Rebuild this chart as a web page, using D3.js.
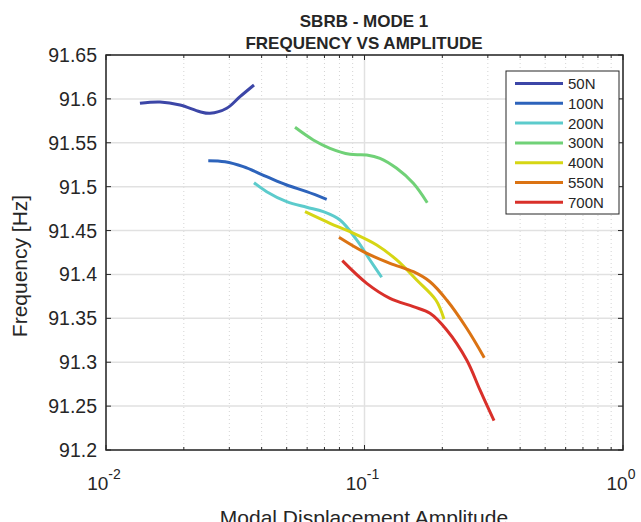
<!DOCTYPE html>
<html>
<head>
  <meta charset="utf-8">
  <title>SBRB - Mode 1</title>
  <script type="text/javascript" src="https://cdn.jsdelivr.net/npm/d3@7/dist/d3.min.js"></script>
  <style>
    body { margin: 0; background: #fff; }
    text { font-family: "Liberation Sans", Arial, sans-serif; fill: #262626; }
  </style>
</head>
<body>
<div id="chart"></div>
<script type="text/javascript">
  // values
  var seriesNames = ["50N", "100N", "200N", "300N", "400N", "550N", "700N"];
  var seriesColors = ["#3c46a7", "#2d63bb", "#5ccbcc", "#70d177", "#d6d614", "#db7313", "#d9302a"];

  var amp50 = [0.01353, 0.01618, 0.01934, 0.02309, 0.02525, 0.02931, 0.03299, 0.03737];
  var freq50 = [91.595, 91.5965, 91.593, 91.5854, 91.5836, 91.5893, 91.6025, 91.6158];
  var amp100 = [0.02487, 0.02886, 0.03397, 0.04183, 0.05, 0.05975, 0.07142];
  var freq100 = [91.5296, 91.5284, 91.5228, 91.5114, 91.5019, 91.4943, 91.4856];
  var amp200 = [0.03737, 0.04183, 0.05, 0.05975, 0.06928, 0.08039, 0.09328, 0.105, 0.1165];
  var freq200 = [91.5045, 91.4943, 91.4829, 91.4765, 91.4715, 91.462, 91.4393, 91.4165, 91.3968];
  var amp300 = [0.05385, 0.06337, 0.07354, 0.08789, 0.102, 0.1148, 0.1332, 0.1545, 0.1749];
  var freq300 = [91.5676, 91.5532, 91.5437, 91.5369, 91.5361, 91.5323, 91.5209, 91.5038, 91.4817];
  var amp400 = [0.05887, 0.07354, 0.08789, 0.1115, 0.1332, 0.1592, 0.1888, 0.203];
  var freq400 = [91.4715, 91.4583, 91.4487, 91.4336, 91.4165, 91.3937, 91.3709, 91.3493];
  var amp550 = [0.07966, 0.09895, 0.1255, 0.1545, 0.1792, 0.208, 0.2485, 0.2906];
  var freq550 = [91.4423, 91.4259, 91.4127, 91.4031, 91.3917, 91.3709, 91.3387, 91.3052];
  var amp700 = [0.08207, 0.102, 0.1255, 0.1545, 0.1792, 0.208, 0.2485, 0.2797, 0.317];
  var freq700 = [91.4157, 91.3899, 91.3728, 91.3633, 91.3557, 91.3367, 91.3025, 91.2684, 91.2334];

  var xTickExps = [-2, -1, 0];
  var yTicks = [91.2, 91.25, 91.3, 91.35, 91.4, 91.45, 91.5, 91.55, 91.6, 91.65];

  var ampSets = [amp50, amp100, amp200, amp300, amp400, amp550, amp700];
  var freqSets = [freq50, freq100, freq200, freq300, freq400, freq550, freq700];

  var w = 641, h = 522;
  var pL = 106, pR = 623, pT = 55, pB = 450;

  var svg = d3.select("#chart").append("svg")
              .attr("width", w)
              .attr("height", h);

  var x = d3.scaleLog().domain([0.01, 1]).range([pL, pR]);
  var y = d3.scaleLinear().domain([91.2, 91.65]).range([pB, pT]);

  // minor positions 2..9 in each decade
  var minor = [];
  [0.01, 0.1].forEach(function(d) {
    for (var k = 2; k <= 9; k++) minor.push(d * k);
  });

  // grid
  var grid = svg.append("g");
  grid.selectAll(".minor").data(minor).enter().append("line")
      .attr("x1", function(d) { return x(d); }).attr("x2", function(d) { return x(d); })
      .attr("y1", pT).attr("y2", pB)
      .attr("stroke", "#d4d4d4").attr("stroke-width", 1)
      .attr("stroke-dasharray", "1,3");
  grid.selectAll(".hmaj").data(yTicks).enter().append("line")
      .attr("x1", pL).attr("x2", pR)
      .attr("y1", function(d) { return y(d); }).attr("y2", function(d) { return y(d); })
      .attr("stroke", "#e1e1e1").attr("stroke-width", 1.5);
  grid.selectAll(".vmaj").data(xTickExps).enter().append("line")
      .attr("x1", function(d) { return x(Math.pow(10, d)); }).attr("x2", function(d) { return x(Math.pow(10, d)); })
      .attr("y1", pT).attr("y2", pB)
      .attr("stroke", "#e1e1e1").attr("stroke-width", 1.5);

  // curves
  var line = d3.line()
               .x(function(d) { return x(d[0]); })
               .y(function(d) { return y(d[1]); })
               .curve(d3.curveCatmullRom.alpha(0.5));

  seriesNames.forEach(function(name, i) {
    var pts = d3.zip(ampSets[i], freqSets[i]);
    svg.append("path")
       .datum(pts)
       .attr("d", line)
       .attr("fill", "none")
       .attr("stroke", seriesColors[i])
       .attr("stroke-width", 3)
       .attr("stroke-linejoin", "round");
  });

  // axes (box with inward ticks on all sides)
  var tickLen = 5;
  var axes = svg.append("g");
  function ticksOn(g, scale, values, orient, len) {
    values.forEach(function(v) {
      var p = scale(v);
      if (orient == "bottom") g.append("line").attr("x1", p).attr("x2", p).attr("y1", pB).attr("y2", pB - len);
      if (orient == "top") g.append("line").attr("x1", p).attr("x2", p).attr("y1", pT).attr("y2", pT + len);
      if (orient == "left") g.append("line").attr("y1", p).attr("y2", p).attr("x1", pL).attr("x2", pL + len);
      if (orient == "right") g.append("line").attr("y1", p).attr("y2", p).attr("x1", pR).attr("x2", pR - len);
    });
  }
  var tg = axes.append("g").attr("stroke", "#262626").attr("stroke-width", 1);
  var majX = xTickExps.map(function(e) { return Math.pow(10, e); });
  ticksOn(tg, x, majX, "bottom", tickLen);
  ticksOn(tg, x, majX, "top", tickLen);
  ticksOn(tg, x, minor, "bottom", 3);
  ticksOn(tg, x, minor, "top", 3);
  ticksOn(tg, y, yTicks, "left", tickLen);
  ticksOn(tg, y, yTicks, "right", tickLen);

  axes.append("rect")
      .attr("x", pL).attr("y", pT)
      .attr("width", pR - pL).attr("height", pB - pT)
      .attr("fill", "none").attr("stroke", "#262626").attr("stroke-width", 1.5);

  // y tick labels
  svg.selectAll(".ylab").data(yTicks).enter().append("text")
     .attr("x", pL - 9)
     .attr("y", function(d) { return y(d); })
     .attr("dy", "0.36em")
     .attr("text-anchor", "end")
     .style("font-size", "19.5px")
     .text(function(d) { return d3.format("")(+d.toFixed(2)); });

  // x tick labels with superscript exponent
  var xl = svg.selectAll(".xlab").data(xTickExps).enter().append("text")
              .attr("x", function(d) { return x(Math.pow(10, d)) - 2; })
              .attr("y", 490)
              .attr("text-anchor", "middle")
              .style("font-size", "19px");
  xl.append("tspan").text("10");
  xl.append("tspan").attr("dy", -11).style("font-size", "14px")
    .text(function(d) { return d < 0 ? "-" + (-d) : d; });

  // axis titles
  svg.append("text")
     .attr("x", 364).attr("y", 525)
     .attr("text-anchor", "middle").style("font-size", "21px")
     .text("Modal Displacement Amplitude");
  svg.append("text")
     .attr("transform", "translate(27,266) rotate(-90)")
     .attr("text-anchor", "middle").style("font-size", "21px")
     .text("Frequency [Hz]");

  // title
  svg.append("text").attr("x", 364).attr("y", 27)
     .attr("text-anchor", "middle").style("font-size", "17px").style("font-weight", "bold")
     .text("SBRB - MODE 1");
  svg.append("text").attr("x", 364).attr("y", 49)
     .attr("text-anchor", "middle").style("font-size", "17px").style("font-weight", "bold")
     .text("FREQUENCY VS AMPLITUDE");

  // legend
  var lx = 506, ly = 71, lw = 113, lh = 143;
  var leg = svg.append("g");
  leg.append("rect").attr("x", lx).attr("y", ly).attr("width", lw).attr("height", lh)
     .attr("fill", "#fff").attr("stroke", "#262626").attr("stroke-width", 1);
  var rows = leg.selectAll(".row").data(seriesNames).enter().append("g")
                .attr("transform", function(d, i) { return "translate(0," + (ly + 12.5 + i * 19.8) + ")"; });
  rows.append("line").attr("x1", lx + 9).attr("x2", lx + 57)
      .attr("stroke", function(d, i) { return seriesColors[i]; }).attr("stroke-width", 3);
  rows.append("text").attr("x", lx + 62).attr("dy", "0.36em")
      .style("font-size", "15px").text(function(d) { return d; });
</script>
</body>
</html>
